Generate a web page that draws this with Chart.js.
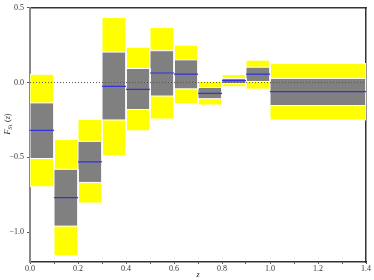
<!DOCTYPE html>
<html>
<head>
<meta charset="utf-8">
<script src="https://cdn.jsdelivr.net/npm/chart.js@4/dist/chart.umd.min.js"></script>
<style>
  body { margin: 0; background: #fff; }
</style>
</head>
<body>
<canvas id="myChart" width="374" height="280"></canvas>
<script>
// bin edges in z, last bin is wide (1.0 - 1.4)
let binEdges = [0.0, 0.1, 0.2, 0.3, 0.4, 0.5, 0.6, 0.7, 0.8, 0.9, 1.0, 1.4];
// outer (yellow) and inner (gray) bands plus median
let outerHigh = [0.055, -0.38, -0.246, 0.435, 0.237, 0.369, 0.25, 0.007, 0.053, 0.15, 0.127];
let innerHigh = [-0.136, -0.58, -0.393, 0.204, 0.094, 0.213, 0.152, -0.033, 0.028, 0.103, 0.028];
let medians = [-0.32, -0.77, -0.53, -0.025, -0.046, 0.064, 0.057, -0.072, 0.013, 0.057, -0.061];
let innerLow = [-0.508, -0.96, -0.668, -0.25, -0.18, -0.09, -0.042, -0.108, -0.007, 0.007, -0.154];
let outerLow = [-0.697, -1.158, -0.806, -0.49, -0.323, -0.244, -0.14, -0.15, -0.028, -0.044, -0.25];
let yTicks = [-1.0, -0.5, 0.0, 0.5];

let serif = "'Liberation Serif', 'DejaVu Serif', serif";

// a closed rectangle as a line dataset, filled inside
function boxDataset(x0, x1, lo, hi, color, order) {
  return {
    data: [{x: x0, y: lo}, {x: x0, y: hi}, {x: x1, y: hi}, {x: x1, y: lo}, {x: x0, y: lo}],
    fill: 'shape',
    backgroundColor: color,
    borderColor: '#ffffff',
    borderWidth: 1,
    pointRadius: 0,
    tension: 0,
    order: order
  };
}

let datasets = [];
for (let i = 0; i < medians.length; i++) {
  let x0 = binEdges[i];
  let x1 = binEdges[i + 1];
  datasets.push(boxDataset(x0, x1, outerLow[i], outerHigh[i], '#ffff00', 4));
  datasets.push(boxDataset(x0, x1, innerLow[i], innerHigh[i], '#808080', 3));
  datasets.push({
    data: [{x: x0, y: medians[i]}, {x: x1, y: medians[i]}],
    fill: false,
    borderColor: '#3333dd',
    borderWidth: 1.2,
    pointRadius: 0,
    order: 2
  });
}
// dotted zero line
datasets.push({
  data: [{x: binEdges[0], y: 0}, {x: binEdges[binEdges.length - 1], y: 0}],
  fill: false,
  borderColor: '#555555',
  borderWidth: 1,
  borderDash: [1, 2],
  pointRadius: 0,
  order: 1
});

function fmt(v) {
  let s = Math.abs(v).toFixed(1);
  return v < -1e-9 ? '\u2212' + s : s;
}

// y axis title with subscript, drawn as text on the canvas
let axisTitles = {
  id: 'axisTitles',
  afterDraw(chart) {
    let ctx = chart.ctx;
    let area = chart.chartArea;
    ctx.save();
    ctx.fillStyle = '#222';
    ctx.textBaseline = 'middle';
    // x title
    ctx.font = 'italic 8px ' + serif;
    ctx.textAlign = 'center';
    ctx.fillText('z', (area.left + area.right) / 2, 275);
    // y title, rotated
    ctx.translate(8, 124);
    ctx.rotate(-Math.PI / 2);
    ctx.textAlign = 'left';
    let parts = [
      {t: 'F', font: 'italic 8px ' + serif, dy: 0},
      {t: 'S', font: 'italic 6px ' + serif, dy: 2},
      {t: '1', font: '5px ' + serif, dy: 3},
      {t: ' (', font: '8px ' + serif, dy: 0},
      {t: 'z', font: 'italic 8px ' + serif, dy: 0},
      {t: ')', font: '8px ' + serif, dy: 0}
    ];
    let total = 0;
    parts.forEach(function(p) { ctx.font = p.font; total += ctx.measureText(p.t).width; });
    let x = -total / 2;
    parts.forEach(function(p) {
      ctx.font = p.font;
      ctx.fillText(p.t, x, p.dy);
      x += ctx.measureText(p.t).width;
    });
    ctx.restore();
  }
};

let ctx = document.getElementById('myChart');
let myChart = new Chart(ctx, {
  type: 'line',
  data: { datasets: datasets },
  plugins: [axisTitles],
  options: {
    responsive: false,
    animation: false,
    devicePixelRatio: 1,
    layout: { padding: { top: 5, right: 8, left: 0, bottom: 0 } },
    plugins: { legend: { display: false }, tooltip: { enabled: false } },
    scales: {
      x: {
        type: 'linear',
        min: 0,
        max: 1.4,
        ticks: {
          stepSize: 0.1,
          autoSkip: false,
          maxRotation: 0,
          padding: 0,
          color: '#333',
          font: { family: serif, size: 8 },
          callback: function(v, i) { return i % 2 === 0 ? fmt(v) : ''; }
        },
        grid: { drawOnChartArea: false, tickLength: 2, color: '#555' },
        border: { color: '#333', width: 1.5 },
        afterFit: function(scale) { scale.height = 18; }
      },
      xTop: {
        type: 'linear',
        position: 'top',
        min: 0,
        max: 1.4,
        ticks: { stepSize: 0.1, display: false },
        grid: { drawOnChartArea: false, drawTicks: false },
        border: { color: '#333', width: 1.5 },
        afterFit: function(scale) { scale.height = 0; }
      },
      y: {
        min: -1.2,
        max: 0.5,
        afterBuildTicks: function(scale) {
          scale.ticks = yTicks.map(function(v) { return {value: v}; });
        },
        ticks: {
          padding: 3,
          color: '#333',
          font: { family: serif, size: 8 },
          callback: function(v) { return fmt(v); }
        },
        grid: { drawOnChartArea: false, tickLength: 3, color: '#555' },
        border: { color: '#888', width: 2 },
        afterFit: function(scale) { scale.width = 30; }
      },
      yRight: {
        position: 'right',
        min: -1.2,
        max: 0.5,
        ticks: { display: false },
        grid: { drawOnChartArea: false, drawTicks: false },
        border: { color: '#333', width: 1.5 },
        afterFit: function(scale) { scale.width = 0; }
      }
    }
  }
});
</script>
</body>
</html>
